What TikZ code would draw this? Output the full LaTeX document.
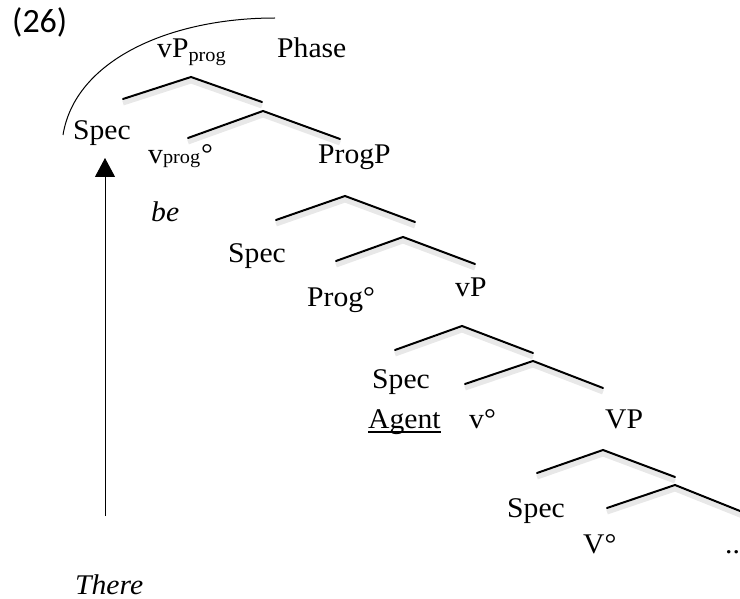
\documentclass[tikz,border=0pt]{standalone}
\usepackage{fontspec}
\setmainfont[FakeStretch=1.04]{Liberation Serif}
\newfontfamily\numfont{Carlito}
\newcommand\subfnt{\fontsize{19.5}{21}\selectfont}
\usetikzlibrary{arrows.meta}
\newcommand\treeangle[4]{%
  \coordinate (#1l) at (#2); \coordinate (#1a) at (#3); \coordinate (#1r) at (#4);
  \draw[branchshade] ([yshift=-4pt]#1l) -- ([yshift=-4pt]#1a) -- ([yshift=-4pt]#1r);
  \draw[branch] (#1l) -- (#1a) -- (#1r);}
\begin{document}
\begin{tikzpicture}[x=1pt,y=-1pt,
  lbl/.style={anchor=base west, inner sep=0pt, font=\fontsize{28.5}{30}\selectfont},
  branch/.style={line width=2pt, line cap=round},
  branchshade/.style={line width=5pt, draw=black!9},
  thin/.style={line width=1pt},
]
\useasboundingbox (0,0) rectangle (740,599);

% example number
\node[anchor=base west, inner sep=0pt, font=\fontsize{34}{36}\selectfont\numfont] (num) at (12,33) {(26)};

% phase arc
\coordinate (arcS) at (63,135);
\coordinate (arcE) at (275,18);
\draw[thin] (arcS) .. controls (75,60) and (170,18) .. (arcE);

% top
\node[lbl] (vPprog) at (157,58) {vP\raisebox{-4pt}{\subfnt prog}};
\node[lbl] (phase) at (277,58) {Phase};
\treeangle{a1}{123,99}{191,77}{262,102}

\node[lbl] (spec1) at (73,140) {Spec};
\treeangle{a2}{188,138}{263,111}{340,139}

\node[lbl] (vprog) at (148,164) {v{\subfnt prog}\kern1pt°};
\node[lbl] (progP) at (318,164) {ProgP};
\node[lbl, font=\fontsize{28.5}{30}\selectfont\itshape] (be) at (151,222) {be};

\treeangle{a3}{276,220}{345,196}{415,222}
\node[lbl] (spec2) at (228,263) {Spec};
\treeangle{a4}{336,261}{403,237}{475,264}

\node[lbl] (prog) at (307,306) {Prog°};
\node[lbl] (vP) at (455,297) {vP};
\treeangle{a5}{395,350}{462,326}{533,353}

\node[lbl] (spec3) at (372,388) {Spec};
\treeangle{a6}{465,384}{533,361}{603,388}

\node[lbl] (agent) at (368,428) {Agent};
\draw[line width=1.2pt] ([yshift=-4pt]agent.base west) -- ([yshift=-4pt]agent.base east);
\node[lbl] (vdeg) at (469,428) {v°};
\node[lbl] (VP) at (605,428) {VP};
\treeangle{a7}{537,473}{603,450}{675,477}

\node[lbl] (spec4) at (507,517) {Spec};
\treeangle{a8}{607,508}{675,485}{745,513}

\node[lbl] (Vdeg) at (583,553) {V°};
\node[lbl] (dots) at (725,553) {..};

% movement arrow
\node[lbl, font=\fontsize{28.5}{30}\selectfont\itshape] (there) at (75,594) {There};
\coordinate (arrS) at (105,516);
\coordinate (arrE) at (105,158);
\draw[thin, -{Triangle[length=19pt,width=20pt]}] (arrS) -- (arrE);
\end{tikzpicture}
\end{document}
